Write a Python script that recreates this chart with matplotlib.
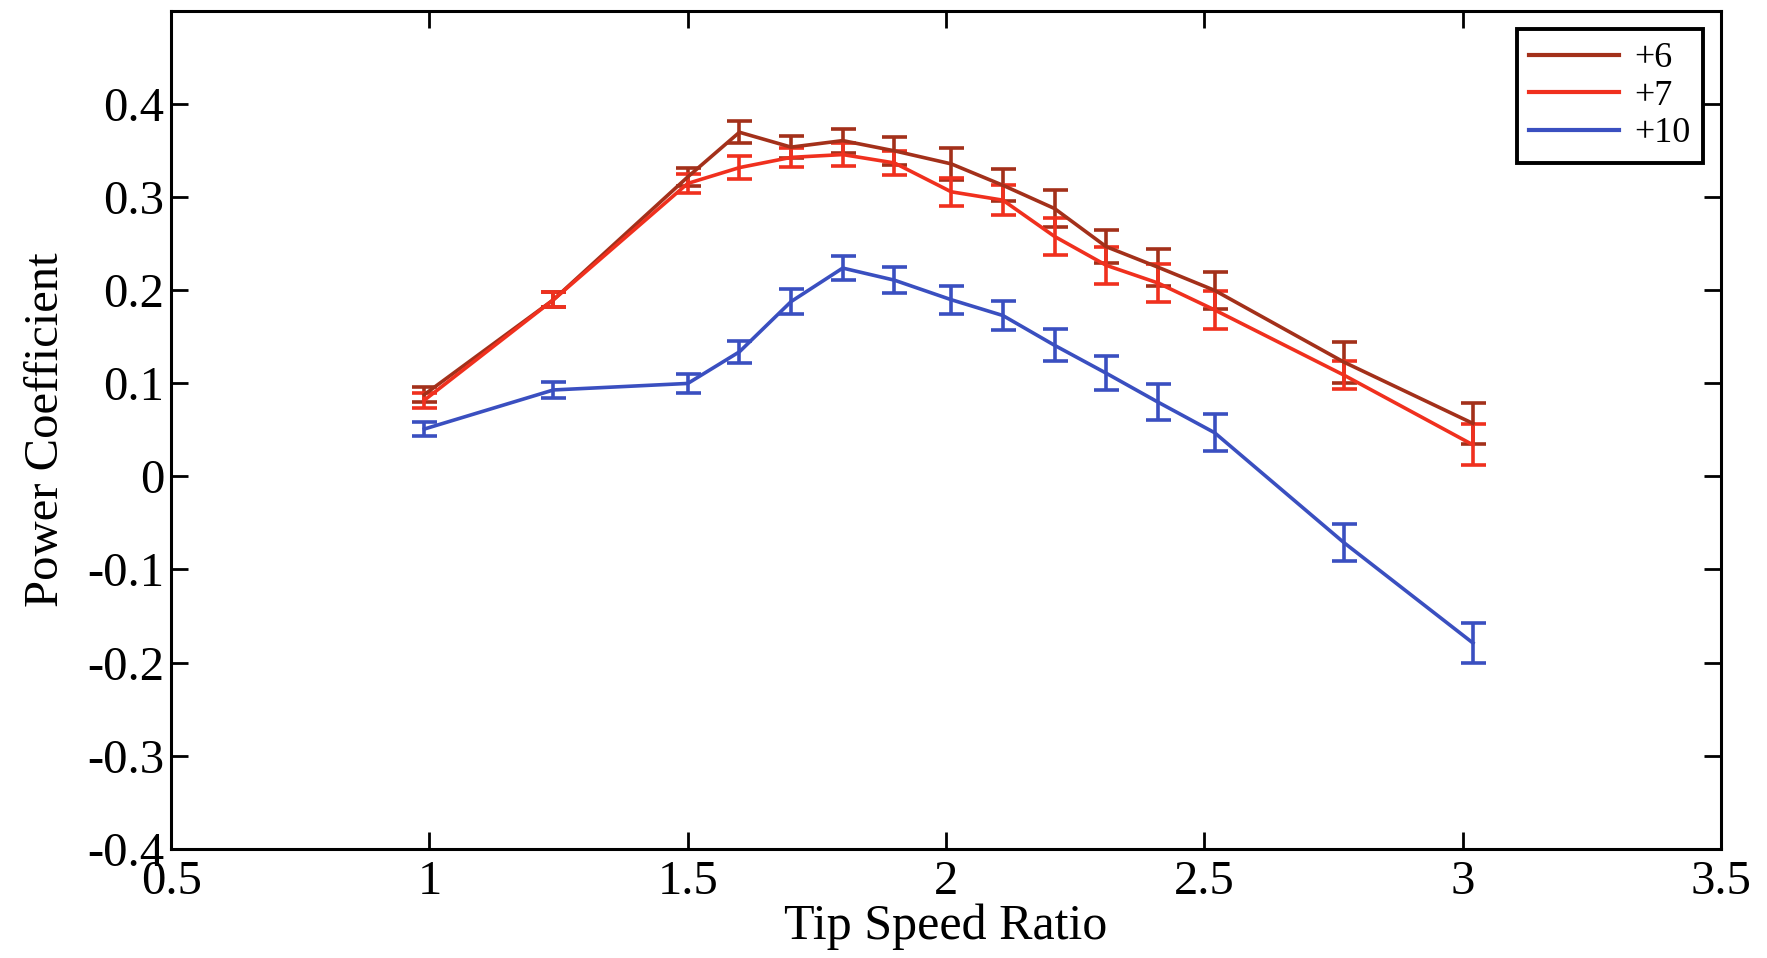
import matplotlib.pyplot as plt
from matplotlib.lines import Line2D
import numpy as np

plt.rcParams['font.family'] = ['Liberation Serif', 'DejaVu Serif']

# tip speed ratio of each test point
tsr = [0.99, 1.24, 1.5, 1.6, 1.7, 1.8, 1.9, 2.01, 2.11, 2.21, 2.31, 2.41, 2.52, 2.77, 3.02]

cp_6 = [0.088, 0.190, 0.322, 0.370, 0.354, 0.361, 0.350, 0.336, 0.313, 0.288,
        0.247, 0.225, 0.200, 0.123, 0.057]
err_6 = [0.008, 0.008, 0.010, 0.012, 0.012, 0.013, 0.015, 0.017, 0.017, 0.020,
         0.018, 0.020, 0.020, 0.022, 0.022]

cp_7 = [0.082, 0.190, 0.315, 0.332, 0.343, 0.346, 0.337, 0.306, 0.297, 0.258,
        0.227, 0.208, 0.179, 0.109, 0.034]
err_7 = [0.008, 0.008, 0.010, 0.012, 0.010, 0.012, 0.013, 0.015, 0.016, 0.020,
         0.020, 0.020, 0.020, 0.015, 0.022]

cp_10 = [0.051, 0.093, 0.100, 0.134, 0.188, 0.224, 0.211, 0.190, 0.173, 0.141,
         0.111, 0.080, 0.047, -0.071, -0.179]
err_10 = [0.008, 0.009, 0.010, 0.012, 0.013, 0.013, 0.014, 0.015, 0.016, 0.017,
          0.018, 0.019, 0.020, 0.020, 0.022]

labels = ['+6', '+7', '+10']
colors = ['#A3301A', '#F0301E', '#3A4FC0']

fig = plt.figure(figsize=(17.67, 9.58), dpi=100)
ax = fig.add_axes([0.0969, 0.1142, 0.8770, 0.8740])

for cp, err, c in zip([cp_6, cp_7, cp_10], [err_6, err_7, err_10], colors):
    ax.errorbar(tsr, cp, yerr=err, color=c, lw=2.6, elinewidth=2.6,
                capsize=9, capthick=2.6)

ax.set_xlim(0.5, 3.5)
ax.set_ylim(-0.4, 0.5)
ax.set_xticks(np.arange(0.5, 3.51, 0.5))
ax.set_xticklabels(['0.5', '1', '1.5', '2', '2.5', '3', '3.5'])
ax.set_yticks(np.arange(-0.4, 0.41, 0.1))
ax.set_yticklabels(['-0.4', '-0.3', '-0.2', '-0.1', '0', '0.1', '0.2', '0.3', '0.4'])

ax.tick_params(direction='in', top=True, right=True, length=12, width=2,
               labelsize=35, pad=5)
ax.tick_params(axis='x', pad=8)
for s in ax.spines.values():
    s.set_linewidth(2.2)

ax.set_xlabel('Tip Speed Ratio', fontsize=36, labelpad=0)
ax.set_ylabel('Power Coefficient', fontsize=35, labelpad=14)

# legend shows plain lines
handles = [Line2D([], [], color=c, lw=3) for c in colors]
leg = ax.legend(handles, labels, loc='upper right', fontsize=26, fancybox=False,
                framealpha=1, edgecolor='black', handlelength=2.5,
                borderaxespad=0.5, handletextpad=0.4, labelspacing=0.12,
                borderpad=0.35)
leg.get_frame().set_linewidth(2.8)

plt.savefig('out.png', dpi=100)
